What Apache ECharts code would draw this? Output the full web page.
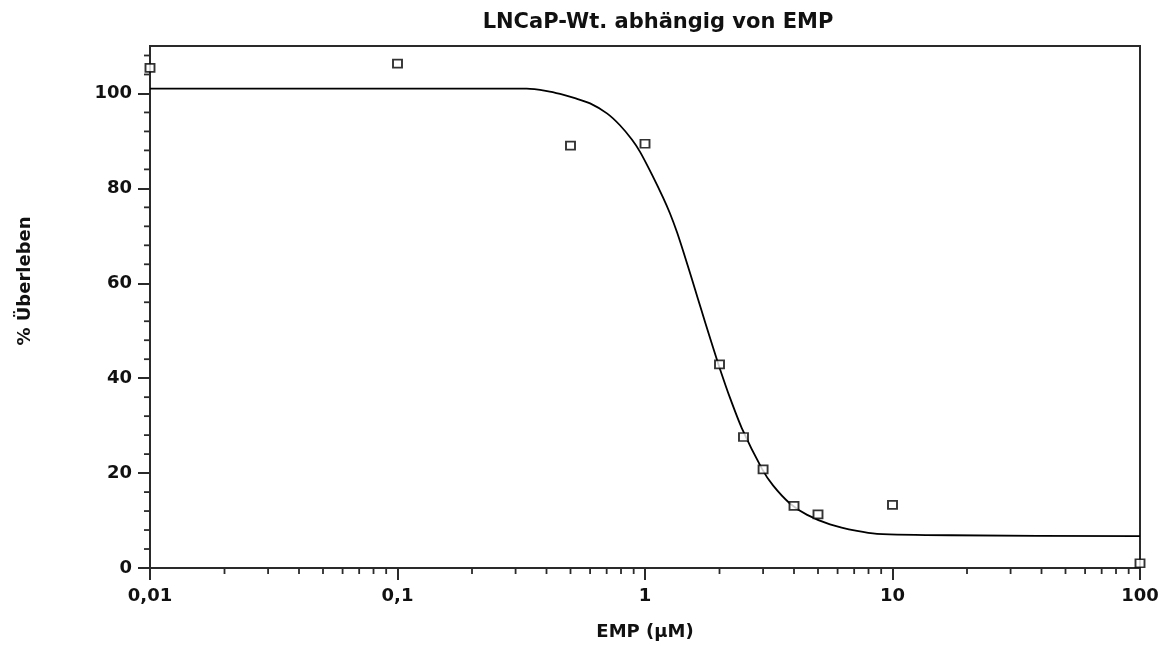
<!DOCTYPE html>
<html>
<head>
<meta charset="utf-8">
<style>
  html, body { margin: 0; padding: 0; background: #fff; }
  #chart { width: 1166px; height: 646px; }
</style>
<script src="https://cdn.jsdelivr.net/npm/echarts@6/dist/echarts.min.js"></script>
</head>
<body>
<div id="chart"></div>
<script>
// Measured survival (%) of LNCaP-Wt. cells per EMP concentration (µM)
const concentrations = [0.01, 0.1, 0.5, 1, 2, 2.5, 3, 4, 5, 10, 100];
const survival = [105.4, 106.3, 89.0, 89.4, 42.9, 27.6, 20.8, 13.1, 11.3, 13.3, 1.0];

// Fitted dose-response curve, sampled along the concentration axis
const fitX = [0.01, 0.333, 0.402, 0.454, 0.521, 0.600, 0.702, 0.792, 0.885, 0.955,
              1.067, 1.182, 1.262, 1.346, 1.424, 1.549, 1.637, 1.747, 1.882, 2.01,
              2.20, 2.46, 2.97, 3.29, 3.85, 4.52, 5.59, 7.19, 8.66, 17.1, 100];
const fitY = [101.0, 101.0, 100.5, 99.9, 99.0, 97.9, 95.8, 93.3, 90.3, 87.7,
              82.9, 78.1, 74.7, 70.8, 66.9, 60.8, 56.7, 51.9, 46.5, 41.9,
              36.0, 29.5, 20.9, 17.4, 13.6, 11.2, 9.2, 7.8, 7.2, 6.9, 6.7];

// Axis tick labels
const xTickLabels = ['0,01', '0,1', '1', '10', '100'];
const yTickValues = [0, 20, 40, 60, 80, 100];

// Minor tick positions: 2..9 within each decade, every 4 % on the y axis
const decades = [0.01, 0.1, 1, 10];
const xMinor = [];
decades.forEach(d => { for (let m = 2; m <= 9; m++) xMinor.push(+(d * m).toPrecision(3)); });
const yMinor = [];
for (let v = 4; v <= 108; v += 4) { if (v % 20 !== 0) yMinor.push(v); }

const axisColor = '#2a2a2a';
const labelFont = { fontFamily: 'DejaVu Sans', fontWeight: 'bold', fontSize: 18, color: '#111' };

const chart = echarts.init(document.getElementById('chart'), null, { renderer: 'canvas' });

chart.setOption({
  animation: false,
  backgroundColor: '#fff',
  title: {
    text: 'LNCaP-Wt. abhängig von EMP',
    left: 653,
    textAlign: 'center',
    top: 7,
    textStyle: { fontFamily: 'DejaVu Sans', fontWeight: 'bold', fontSize: 21, color: '#111' }
  },
  grid: {
    left: 150, right: 26, top: 46, bottom: 76,
    show: true, borderColor: axisColor, borderWidth: 2, backgroundColor: '#fff'
  },
  xAxis: {
    type: 'log',
    logBase: 10,
    min: 0.01,
    max: 100,
    name: 'EMP (µM)',
    nameLocation: 'middle',
    nameGap: 55,
    nameTextStyle: { fontFamily: 'DejaVu Sans', fontWeight: 'bold', fontSize: 18, color: '#111' },
    axisLine: { show: true, lineStyle: { color: axisColor, width: 2 } },
    axisTick: { show: true, length: 12, lineStyle: { color: axisColor, width: 2 } },
    axisLabel: {
      ...labelFont,
      margin: 19,
      formatter: v => xTickLabels[Math.round(Math.log10(v)) + 2]
    },
    splitLine: { show: false },
    minorTick: { show: false }
  },
  yAxis: {
    type: 'value',
    min: 0,
    max: 110,
    interval: 20,
    name: '% Überleben',
    nameLocation: 'middle',
    nameGap: 116,
    nameRotate: 90,
    nameTextStyle: {
      fontFamily: 'DejaVu Sans', fontWeight: 'bold', fontSize: 18, color: '#111',
      padding: [0, 0, 0, 52]
    },
    axisLine: { show: true, lineStyle: { color: axisColor, width: 2 } },
    axisTick: { show: true, length: 12, customValues: yTickValues, lineStyle: { color: axisColor, width: 2 } },
    axisLabel: { ...labelFont, margin: 18, customValues: yTickValues },
    splitLine: { show: false }
  },
  series: [
    {
      name: 'Fit',
      type: 'line',
      data: fitX.map((x, i) => [x, fitY[i]]),
      showSymbol: false,
      smooth: 0.25,
      lineStyle: { color: '#000', width: 1.8 },
      silent: true,
      z: 2
    },
    {
      name: 'Messwerte',
      type: 'scatter',
      data: concentrations.map((x, i) => [x, survival[i]]),
      symbol: 'rect',
      symbolSize: [9, 8],
      itemStyle: { color: '#fff', borderColor: '#000', borderWidth: 1.8 },
      clip: false,
      z: 3
    },
    {
      name: 'xMinor',
      type: 'custom',
      clip: false,
      silent: true,
      data: xMinor.map(x => [x, 0]),
      renderItem: (params, api) => {
        const p = api.coord([api.value(0), 0]);
        return { type: 'line', shape: { x1: p[0], y1: p[1], x2: p[0], y2: p[1] + 6 },
                 style: { stroke: axisColor, lineWidth: 1.8 } };
      },
      z: 4
    },
    {
      name: 'yMinor',
      type: 'custom',
      clip: false,
      silent: true,
      data: yMinor.map(y => [0.01, y]),
      renderItem: (params, api) => {
        const p = api.coord([0.01, api.value(1)]);
        return { type: 'line', shape: { x1: p[0] - 6, y1: p[1], x2: p[0], y2: p[1] },
                 style: { stroke: axisColor, lineWidth: 1.8 } };
      },
      z: 4
    }
  ]
});
</script>
</body>
</html>
